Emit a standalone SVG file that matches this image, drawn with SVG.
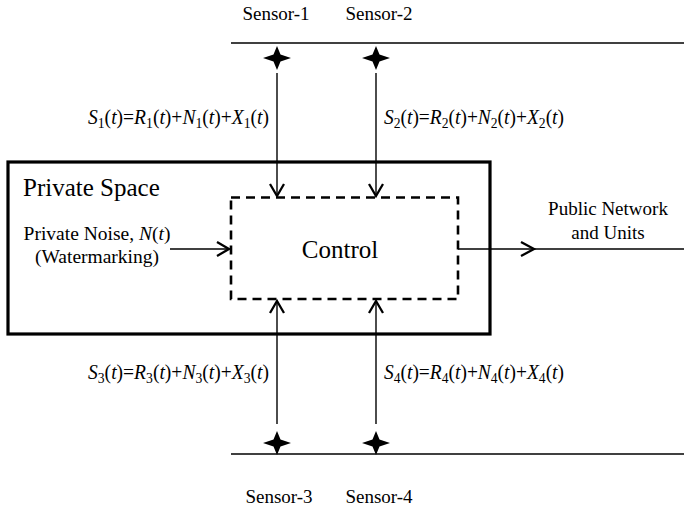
<svg xmlns="http://www.w3.org/2000/svg" width="684" height="512" viewBox="0 0 684 512" font-family="'Liberation Serif', Tinos, 'Times New Roman', 'DejaVu Serif', serif">
<style>
text{font-family:'Liberation Serif', Tinos, 'Times New Roman', 'DejaVu Serif', serif;fill:#000}
.lbl{font-size:19px}
.pn{font-size:19.5px}
.big{font-size:25px}
.f{font-size:20px}
.i{font-style:italic}
.sb{font-size:14px}
.wire{stroke:#000;stroke-width:1.4;fill:none}
.ah{stroke:#000;stroke-width:2.3;fill:none;stroke-linecap:butt;stroke-linejoin:miter}
.rail{stroke:#000;stroke-width:1.4;fill:none}
</style>
<defs>
<path id="star" d="M-14,0 L-3.5,-3.5 L0,-12 L3.5,-3.5 L14,0 L3.5,3.5 L0,12 L-3.5,3.5 Z" fill="#000"/>
</defs>

<g id="private-space">
<rect x="8" y="162" width="482" height="172" fill="none" stroke="#000" stroke-width="3.2"/>
<text class="big" x="23" y="196">Private Space</text>
</g>

<g id="private-noise">
<text class="pn" x="97" y="240" text-anchor="middle">Private Noise, <tspan class="i">N</tspan>(<tspan class="i">t</tspan>)</text>
<text class="pn" x="97" y="263" text-anchor="middle">(Watermarking)</text>
</g>

<g id="control">
<rect x="231" y="197.5" width="227" height="101.5" fill="none" stroke="#000" stroke-width="2.6" stroke-dasharray="9,6"/>
<text class="big" x="340" y="258" text-anchor="middle">Control</text>
</g>

<g id="public-network">
<text class="lbl" x="608" y="215" text-anchor="middle">Public Network</text>
<text class="lbl" x="608" y="239" text-anchor="middle">and Units</text>
</g>

<g id="sensor-1">
<text class="lbl" x="276" y="20" text-anchor="middle">Sensor-1</text>
<use href="#star" x="277" y="58"/>
</g>
<g id="sensor-2">
<text class="lbl" x="379" y="20" text-anchor="middle">Sensor-2</text>
<use href="#star" x="376" y="58"/>
</g>
<g id="sensor-3">
<text class="lbl" x="279" y="503" text-anchor="middle">Sensor-3</text>
<use href="#star" x="277" y="443"/>
</g>
<g id="sensor-4">
<text class="lbl" x="379" y="503" text-anchor="middle">Sensor-4</text>
<use href="#star" x="376" y="443"/>
</g>

<g id="rails">
<line class="rail" x1="231" y1="43" x2="684" y2="43"/>
<line class="rail" x1="231" y1="454" x2="684" y2="454"/>
</g>

<g id="connectors">
<line class="wire" x1="277" y1="73" x2="277" y2="196"/>
<polyline class="ah" points="270,184 277,196 284,184"/>
<line class="wire" x1="376" y1="73" x2="376" y2="196"/>
<polyline class="ah" points="369,184 376,196 383,184"/>
<line class="wire" x1="277" y1="424" x2="277" y2="301"/>
<polyline class="ah" points="270,313 277,301 284,313"/>
<line class="wire" x1="376" y1="424" x2="376" y2="301"/>
<polyline class="ah" points="369,313 376,301 383,313"/>
<line class="wire" x1="170" y1="249" x2="229" y2="249"/>
<polyline class="ah" points="217,242 229,249 217,256"/>
<line class="wire" x1="458" y1="249" x2="684" y2="249"/>
<polyline class="ah" points="521,242 534,249 521,256"/>
</g>

<g id="signal-labels">
<text class="f" x="88" y="124" textLength="181" lengthAdjust="spacingAndGlyphs"><tspan class="i">S</tspan><tspan class="sb" dy="4">1</tspan><tspan dy="-4">(</tspan><tspan class="i">t</tspan>)=<tspan class="i">R</tspan><tspan class="sb" dy="4">1</tspan><tspan dy="-4">(</tspan><tspan class="i">t</tspan>)+<tspan class="i">N</tspan><tspan class="sb" dy="4">1</tspan><tspan dy="-4">(</tspan><tspan class="i">t</tspan>)+<tspan class="i">X</tspan><tspan class="sb" dy="4">1</tspan><tspan dy="-4">(</tspan><tspan class="i">t</tspan>)</text>
<text class="f" x="384" y="124" textLength="180" lengthAdjust="spacingAndGlyphs"><tspan class="i">S</tspan><tspan class="sb" dy="4">2</tspan><tspan dy="-4">(</tspan><tspan class="i">t</tspan>)=<tspan class="i">R</tspan><tspan class="sb" dy="4">2</tspan><tspan dy="-4">(</tspan><tspan class="i">t</tspan>)+<tspan class="i">N</tspan><tspan class="sb" dy="4">2</tspan><tspan dy="-4">(</tspan><tspan class="i">t</tspan>)+<tspan class="i">X</tspan><tspan class="sb" dy="4">2</tspan><tspan dy="-4">(</tspan><tspan class="i">t</tspan>)</text>
<text class="f" x="88" y="379" textLength="181" lengthAdjust="spacingAndGlyphs"><tspan class="i">S</tspan><tspan class="sb" dy="4">3</tspan><tspan dy="-4">(</tspan><tspan class="i">t</tspan>)=<tspan class="i">R</tspan><tspan class="sb" dy="4">3</tspan><tspan dy="-4">(</tspan><tspan class="i">t</tspan>)+<tspan class="i">N</tspan><tspan class="sb" dy="4">3</tspan><tspan dy="-4">(</tspan><tspan class="i">t</tspan>)+<tspan class="i">X</tspan><tspan class="sb" dy="4">3</tspan><tspan dy="-4">(</tspan><tspan class="i">t</tspan>)</text>
<text class="f" x="384" y="379" textLength="180" lengthAdjust="spacingAndGlyphs"><tspan class="i">S</tspan><tspan class="sb" dy="4">4</tspan><tspan dy="-4">(</tspan><tspan class="i">t</tspan>)=<tspan class="i">R</tspan><tspan class="sb" dy="4">4</tspan><tspan dy="-4">(</tspan><tspan class="i">t</tspan>)+<tspan class="i">N</tspan><tspan class="sb" dy="4">4</tspan><tspan dy="-4">(</tspan><tspan class="i">t</tspan>)+<tspan class="i">X</tspan><tspan class="sb" dy="4">4</tspan><tspan dy="-4">(</tspan><tspan class="i">t</tspan>)</text>
</g>
</svg>
